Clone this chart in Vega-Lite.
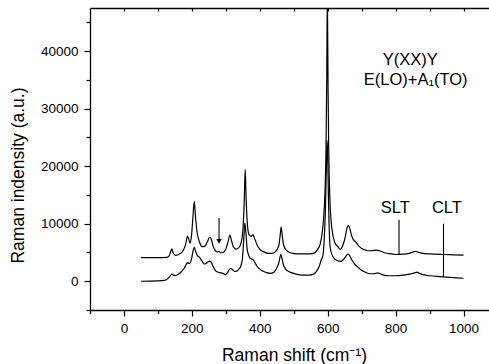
{
  "$schema": "https://vega.github.io/schema/vega-lite/v6.json",
  "width": 399,
  "height": 302,
  "autosize": {"type": "none"},
  "padding": {"left": 90, "top": 8, "right": 0, "bottom": 54},
  "background": "white",
  "config": {
    "view": {"stroke": null},
    "font": "Liberation Sans",
    "axis": {
      "grid": false,
      "offset": 0,
      "domainColor": "black",
      "domainWidth": 1.3,
      "tickColor": "black",
      "tickWidth": 1.2,
      "labelColor": "black",
      "titleColor": "black",
      "labelFont": "Liberation Sans",
      "titleFont": "Liberation Sans",
      "labelFontSize": 13.5,
      "titleFontSize": 17.5,
      "titleFontWeight": "normal"
    }
  },
  "datasets": {
    "spectra": [
      {"s":"upper","x":50,"y":4100},{"s":"upper","x":100,"y":4100},{"s":"upper","x":125,"y":4150},{"s":"upper","x":133,"y":4400},{"s":"upper","x":138,"y":5200},{"s":"upper","x":141,"y":5650},{"s":"upper","x":145,"y":4900},{"s":"upper","x":152,"y":4500},{"s":"upper","x":165,"y":4800},{"s":"upper","x":175,"y":5400},{"s":"upper","x":182,"y":6500},{"s":"upper","x":187,"y":7800},{"s":"upper","x":191,"y":7300},{"s":"upper","x":195,"y":6600},{"s":"upper","x":199,"y":8000},{"s":"upper","x":203,"y":11000},{"s":"upper","x":207,"y":13900},{"s":"upper","x":211,"y":11000},{"s":"upper","x":216,"y":8300},{"s":"upper","x":222,"y":6900},{"s":"upper","x":230,"y":6000},{"s":"upper","x":238,"y":6100},{"s":"upper","x":246,"y":6900},{"s":"upper","x":252,"y":7650},{"s":"upper","x":256,"y":7500},{"s":"upper","x":262,"y":6200},{"s":"upper","x":268,"y":5400},{"s":"upper","x":274,"y":5100},{"s":"upper","x":280,"y":5200},{"s":"upper","x":285,"y":4950},{"s":"upper","x":292,"y":5000},{"s":"upper","x":300,"y":5600},{"s":"upper","x":306,"y":6700},{"s":"upper","x":312,"y":8000},{"s":"upper","x":317,"y":7000},{"s":"upper","x":322,"y":6000},{"s":"upper","x":330,"y":5600},{"s":"upper","x":338,"y":5800},{"s":"upper","x":345,"y":6700},{"s":"upper","x":350,"y":8700},{"s":"upper","x":354,"y":13500},{"s":"upper","x":357,"y":19400},{"s":"upper","x":360,"y":14000},{"s":"upper","x":364,"y":9500},{"s":"upper","x":369,"y":8000},{"s":"upper","x":375,"y":7800},{"s":"upper","x":380,"y":8100},{"s":"upper","x":385,"y":7400},{"s":"upper","x":392,"y":6300},{"s":"upper","x":400,"y":5600},{"s":"upper","x":412,"y":5100},{"s":"upper","x":425,"y":4850},{"s":"upper","x":435,"y":4850},{"s":"upper","x":445,"y":5100},{"s":"upper","x":452,"y":5600},{"s":"upper","x":457,"y":6500},{"s":"upper","x":460,"y":8000},{"s":"upper","x":463,"y":9400},{"s":"upper","x":466,"y":8000},{"s":"upper","x":470,"y":6300},{"s":"upper","x":478,"y":5400},{"s":"upper","x":490,"y":4950},{"s":"upper","x":510,"y":4750},{"s":"upper","x":540,"y":4750},{"s":"upper","x":560,"y":4900},{"s":"upper","x":570,"y":5500},{"s":"upper","x":578,"y":6500},{"s":"upper","x":584,"y":8500},{"s":"upper","x":588,"y":11000},{"s":"upper","x":592,"y":15500},{"s":"upper","x":595,"y":23000},{"s":"upper","x":597,"y":34000},{"s":"upper","x":599,"y":50000},{"s":"upper","x":601,"y":34000},{"s":"upper","x":603,"y":23000},{"s":"upper","x":606,"y":15000},{"s":"upper","x":610,"y":10500},{"s":"upper","x":616,"y":7800},{"s":"upper","x":622,"y":6600},{"s":"upper","x":630,"y":6000},{"s":"upper","x":637,"y":5600},{"s":"upper","x":645,"y":6300},{"s":"upper","x":652,"y":7800},{"s":"upper","x":657,"y":9300},{"s":"upper","x":661,"y":9700},{"s":"upper","x":665,"y":9200},{"s":"upper","x":670,"y":8000},{"s":"upper","x":676,"y":7200},{"s":"upper","x":683,"y":6800},{"s":"upper","x":692,"y":6100},{"s":"upper","x":700,"y":5700},{"s":"upper","x":710,"y":5450},{"s":"upper","x":720,"y":5300},{"s":"upper","x":735,"y":5350},{"s":"upper","x":745,"y":5400},{"s":"upper","x":755,"y":5250},{"s":"upper","x":765,"y":5000},{"s":"upper","x":780,"y":4800},{"s":"upper","x":800,"y":4650},{"s":"upper","x":820,"y":4700},{"s":"upper","x":840,"y":4850},{"s":"upper","x":858,"y":5200},{"s":"upper","x":866,"y":5050},{"s":"upper","x":880,"y":4850},{"s":"upper","x":900,"y":4750},{"s":"upper","x":940,"y":4650},{"s":"upper","x":970,"y":4600},{"s":"upper","x":1000,"y":4550},
      {"s":"lower","x":50,"y":0},{"s":"lower","x":100,"y":50},{"s":"lower","x":120,"y":150},{"s":"lower","x":130,"y":500},{"s":"lower","x":136,"y":900},{"s":"lower","x":141,"y":1250},{"s":"lower","x":146,"y":1050},{"s":"lower","x":152,"y":1000},{"s":"lower","x":160,"y":1200},{"s":"lower","x":170,"y":1700},{"s":"lower","x":178,"y":2300},{"s":"lower","x":184,"y":3000},{"s":"lower","x":188,"y":3250},{"s":"lower","x":192,"y":3050},{"s":"lower","x":196,"y":3300},{"s":"lower","x":200,"y":4200},{"s":"lower","x":204,"y":5400},{"s":"lower","x":207,"y":5900},{"s":"lower","x":211,"y":5200},{"s":"lower","x":216,"y":4500},{"s":"lower","x":222,"y":4200},{"s":"lower","x":230,"y":3500},{"s":"lower","x":236,"y":3000},{"s":"lower","x":242,"y":3100},{"s":"lower","x":248,"y":3400},{"s":"lower","x":253,"y":3500},{"s":"lower","x":258,"y":3200},{"s":"lower","x":264,"y":2400},{"s":"lower","x":270,"y":1800},{"s":"lower","x":276,"y":1600},{"s":"lower","x":282,"y":1500},{"s":"lower","x":290,"y":1400},{"s":"lower","x":298,"y":1150},{"s":"lower","x":305,"y":1500},{"s":"lower","x":310,"y":2000},{"s":"lower","x":315,"y":2250},{"s":"lower","x":320,"y":2000},{"s":"lower","x":326,"y":1700},{"s":"lower","x":332,"y":1750},{"s":"lower","x":338,"y":2100},{"s":"lower","x":344,"y":2600},{"s":"lower","x":349,"y":4000},{"s":"lower","x":353,"y":7500},{"s":"lower","x":356,"y":10100},{"s":"lower","x":359,"y":8500},{"s":"lower","x":363,"y":5500},{"s":"lower","x":368,"y":4400},{"s":"lower","x":374,"y":3900},{"s":"lower","x":380,"y":3800},{"s":"lower","x":385,"y":3300},{"s":"lower","x":392,"y":2600},{"s":"lower","x":400,"y":2100},{"s":"lower","x":410,"y":1750},{"s":"lower","x":420,"y":1500},{"s":"lower","x":432,"y":1350},{"s":"lower","x":442,"y":1600},{"s":"lower","x":450,"y":2300},{"s":"lower","x":456,"y":3200},{"s":"lower","x":460,"y":4300},{"s":"lower","x":462,"y":4650},{"s":"lower","x":465,"y":4100},{"s":"lower","x":469,"y":3000},{"s":"lower","x":475,"y":2200},{"s":"lower","x":485,"y":1700},{"s":"lower","x":495,"y":1450},{"s":"lower","x":510,"y":1200},{"s":"lower","x":530,"y":1050},{"s":"lower","x":545,"y":1050},{"s":"lower","x":560,"y":1300},{"s":"lower","x":568,"y":1800},{"s":"lower","x":575,"y":2600},{"s":"lower","x":581,"y":3700},{"s":"lower","x":586,"y":4500},{"s":"lower","x":590,"y":7500},{"s":"lower","x":593,"y":12000},{"s":"lower","x":595,"y":17000},{"s":"lower","x":597,"y":22000},{"s":"lower","x":598,"y":24500},{"s":"lower","x":600,"y":22000},{"s":"lower","x":602,"y":15000},{"s":"lower","x":604,"y":10000},{"s":"lower","x":607,"y":6000},{"s":"lower","x":612,"y":4700},{"s":"lower","x":620,"y":3900},{"s":"lower","x":628,"y":3600},{"s":"lower","x":637,"y":3450},{"s":"lower","x":645,"y":3700},{"s":"lower","x":652,"y":4200},{"s":"lower","x":656,"y":4550},{"s":"lower","x":661,"y":4700},{"s":"lower","x":666,"y":4300},{"s":"lower","x":672,"y":3600},{"s":"lower","x":680,"y":2950},{"s":"lower","x":690,"y":2400},{"s":"lower","x":700,"y":1900},{"s":"lower","x":710,"y":1600},{"s":"lower","x":720,"y":1350},{"s":"lower","x":735,"y":1300},{"s":"lower","x":748,"y":1450},{"s":"lower","x":755,"y":1300},{"s":"lower","x":765,"y":1050},{"s":"lower","x":780,"y":950},{"s":"lower","x":800,"y":950},{"s":"lower","x":820,"y":1050},{"s":"lower","x":840,"y":1250},{"s":"lower","x":856,"y":1450},{"s":"lower","x":863,"y":1600},{"s":"lower","x":870,"y":1350},{"s":"lower","x":885,"y":1100},{"s":"lower","x":900,"y":950},{"s":"lower","x":930,"y":800},{"s":"lower","x":960,"y":680},{"s":"lower","x":1000,"y":520}
    ],
    "rules": [
      {"name":"SLT","x":810,"y1":10700,"y2":4620},
      {"name":"CLT","x":941,"y1":10000,"y2":750},
      {"name":"arrow","x":280,"y1":11000,"y2":7000}
    ],
    "heads": [{"x":280,"y":6950}],
    "markers": [
      {"t":"SLT","x":799,"y":11900},
      {"t":"CLT","x":951,"y":11900}
    ],
    "header": [
      {"t":"Y(XX)Y","x":843,"y":37600},
      {"t":"E(LO)+A₁(TO)","x":859,"y":34150}
    ]
  },
  "layer": [
    {
      "data": {"name": "spectra"},
      "mark": {"type": "line", "clip": true, "interpolate": "monotone", "color": "black", "strokeWidth": 1.2},
      "encoding": {
        "x": {"field": "x", "type": "quantitative",
              "scale": {"domain": [-100, 1075], "nice": false, "zero": false},
              "axis": {"orient": "bottom", "offset": 0, "values": [0,200,400,600,800,1000], "format": "d", "tickSize": 6, "labelPadding": 5,
                       "title": "Raman shift (cm⁻¹)", "titleX": 204, "titleY": 50.5, "titleBaseline": "alphabetic", "titleAlign": "center"}},
        "y": {"field": "y", "type": "quantitative",
              "scale": {"domain": [-5000, 47500], "nice": false, "zero": false},
              "axis": {"orient": "left", "offset": 0, "values": [0,10000,20000,30000,40000], "format": "d", "tickSize": 6, "labelPadding": 6,
                       "title": "Raman indensity (a.u.)", "titleX": -67, "titleY": 167, "titleBaseline": "alphabetic", "titleAlign": "center", "titleAngle": -90}},
        "detail": {"field": "s"}
      }
    },
    {
      "data": {"name": "rules"},
      "mark": {"type": "rule", "color": "black", "strokeWidth": 1.1},
      "encoding": {
        "x": {"field": "x", "type": "quantitative",
              "axis": {"orient": "bottom", "offset": 0, "values": [-100,100,300,500,700,900], "tickSize": 3.5, "labels": false, "domain": false, "title": null}},
        "y": {"field": "y1", "type": "quantitative",
              "axis": {"orient": "left", "offset": 0, "values": [-5000,5000,15000,25000,35000,45000], "tickSize": 4, "labels": false, "domain": false, "title": null}},
        "y2": {"field": "y2"}
      }
    },
    {
      "data": {"name": "heads"},
      "mark": {"type": "point", "shape": "triangle-down", "filled": true, "color": "black", "size": 30, "opacity": 1},
      "encoding": {
        "x": {"field": "x", "type": "quantitative",
              "axis": {"orient": "top", "offset": 0, "values": [0,100,200,300,400,500,600,700,800,900,1000], "tickSize": -3, "labels": false, "domain": true, "title": null}},
        "y": {"field": "y", "type": "quantitative", "axis": null}
      }
    },
    {
      "data": {"name": "markers"},
      "mark": {"type": "text", "color": "black", "fontSize": 16.5, "font": "Liberation Sans", "align": "center", "baseline": "alphabetic"},
      "encoding": {
        "x": {"field": "x", "type": "quantitative", "axis": null},
        "y": {"field": "y", "type": "quantitative", "axis": null},
        "text": {"field": "t"}
      }
    },
    {
      "data": {"name": "header"},
      "mark": {"type": "text", "color": "black", "fontSize": 16.5, "font": "Liberation Sans", "align": "center", "baseline": "alphabetic"},
      "encoding": {
        "x": {"field": "x", "type": "quantitative", "axis": null},
        "y": {"field": "y", "type": "quantitative", "axis": null},
        "text": {"field": "t"}
      }
    }
  ],
  "resolve": {"axis": {"x": "independent", "y": "independent"}}
}
